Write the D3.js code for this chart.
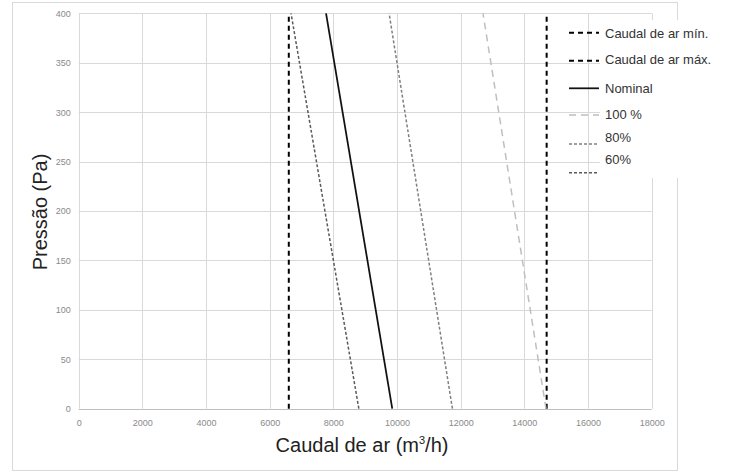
<!DOCTYPE html>
<html>
<head>
<meta charset="utf-8">
<script src="https://cdn.jsdelivr.net/npm/d3@7"></script>
<style>
  body { margin: 0; background: #fff; }
  svg { display: block; font-family: "Liberation Sans", Arial, sans-serif; }
</style>
</head>
<body>
<svg id="chart" width="731" height="472"></svg>
<script>
// pressure points (Pa) and the flow (m3/h) each curve has at them
var pressures = [0, 400];
var caudalMin = [6600, 6600];
var caudalMax = [14700, 14700];
var nominal = [9850, 7770];
var pct100 = [14680, 12700];
var pct80 = [11740, 9750];
var pct60 = [8800, 6670];

var xTicks = [0, 2000, 4000, 6000, 8000, 10000, 12000, 14000, 16000, 18000];
var yTicks = [0, 50, 100, 150, 200, 250, 300, 350, 400];

var seriesNames = ['Caudal de ar mín.', 'Caudal de ar máx.', 'Nominal', '100 %', '80%', '60%'];
var seriesValues = [caudalMin, caudalMax, nominal, pct100, pct80, pct60];

(function () {
    'use strict';

    var svg = d3.select('#chart');
    var left = 78.7, right = 651.7, top = 13.3, bottom = 408.7;

    var styles = [
        { stroke: '#000', width: 2, dash: '5,4' },
        { stroke: '#000', width: 2, dash: '5,4' },
        { stroke: '#111', width: 1.75, dash: null },
        { stroke: '#bfbfbf', width: 1.5, dash: '7,5' },
        { stroke: '#808080', width: 1.5, dash: '3,2' },
        { stroke: '#5a5a5a', width: 1.5, dash: '3,2' }
    ];

    var x = d3.scaleLinear().domain([0, 18000]).range([left, right]);
    var y = d3.scaleLinear().domain([0, 400]).range([bottom, top]);

    // outer chart border
    svg.append('rect')
        .attr('x', 12.5).attr('y', 2.5)
        .attr('width', 665).attr('height', 468)
        .style('fill', '#fff')
        .style('stroke', '#d9d9d9');

    // gridlines
    svg.append('g')
        .selectAll('line')
        .data(xTicks)
        .enter().append('line')
        .attr('x1', function (d) { return Math.round(x(d)) + 0.5; })
        .attr('x2', function (d) { return Math.round(x(d)) + 0.5; })
        .attr('y1', top).attr('y2', bottom)
        .style('stroke', '#d9d9d9');

    svg.append('g')
        .selectAll('line')
        .data(yTicks)
        .enter().append('line')
        .attr('y1', function (d) { return Math.round(y(d)) + 0.5; })
        .attr('y2', function (d) { return Math.round(y(d)) + 0.5; })
        .attr('x1', left).attr('x2', right)
        .style('stroke', function (d) { return d === 0 ? '#bfbfbf' : '#d9d9d9'; });

    // axes (labels only, Excel style)
    var xAxis = svg.append('g')
        .attr('transform', 'translate(0,' + bottom + ')')
        .call(d3.axisBottom(x).tickValues(xTicks).tickSize(0).tickPadding(11).tickFormat(d3.format('d')));
    var yAxis = svg.append('g')
        .attr('transform', 'translate(' + left + ',0)')
        .call(d3.axisLeft(y).tickValues(yTicks).tickSize(0).tickPadding(8).tickFormat(d3.format('d')));

    [xAxis, yAxis].forEach(function (a) {
        a.select('.domain').remove();
        a.selectAll('text')
            .style('font-family', '"Liberation Sans", Arial, sans-serif')
            .style('font-size', '9px')
            .style('fill', '#8a8a8a');
    });

    // curves
    var line = d3.line()
        .x(function (d) { return x(d[0]); })
        .y(function (d) { return y(d[1]); });

    svg.append('g')
        .selectAll('path')
        .data(seriesValues)
        .enter().append('path')
        .attr('d', function (vals) {
            return line(vals.map(function (v, i) { return [v, pressures[i]]; }));
        })
        .style('fill', 'none')
        .style('stroke', function (d, i) { return styles[i].stroke; })
        .style('stroke-width', function (d, i) { return styles[i].width; })
        .style('stroke-dasharray', function (d, i) { return styles[i].dash; });

    // legend
    svg.append('rect')
        .attr('x', 600).attr('y', 20)
        .attr('width', 116).attr('height', 158)
        .style('fill', '#fff');

    var lineY = [32.7, 60.7, 88.3, 115, 144, 172.7];
    var textY = [33, 59, 88, 114, 137, 159];

    var leg = svg.append('g').selectAll('g')
        .data(seriesNames)
        .enter().append('g');

    leg.append('line')
        .attr('x1', 569).attr('x2', 599)
        .attr('y1', function (d, i) { return lineY[i]; })
        .attr('y2', function (d, i) { return lineY[i]; })
        .style('stroke', function (d, i) { return styles[i].stroke; })
        .style('stroke-width', function (d, i) { return styles[i].width; })
        .style('stroke-dasharray', function (d, i) { return styles[i].dash; });

    leg.append('text')
        .attr('x', 605)
        .attr('y', function (d, i) { return textY[i]; })
        .attr('dy', '0.35em')
        .style('font-size', '13px')
        .style('fill', '#333')
        .text(function (d) { return d; });

    // axis titles
    var xt = svg.append('text')
        .attr('x', 362).attr('y', 452)
        .attr('text-anchor', 'middle')
        .style('font-size', '20px')
        .style('fill', '#222');
    xt.append('tspan').text('Caudal de ar (m');
    xt.append('tspan').attr('dy', -8).style('font-size', '11px').text('3');
    xt.append('tspan').attr('dy', 8).text('/h)');

    svg.append('text')
        .attr('transform', 'translate(47,212) rotate(-90)')
        .attr('text-anchor', 'middle')
        .style('font-size', '20px')
        .style('fill', '#222')
        .text('Pressão (Pa)');
})();
</script>
</body>
</html>
